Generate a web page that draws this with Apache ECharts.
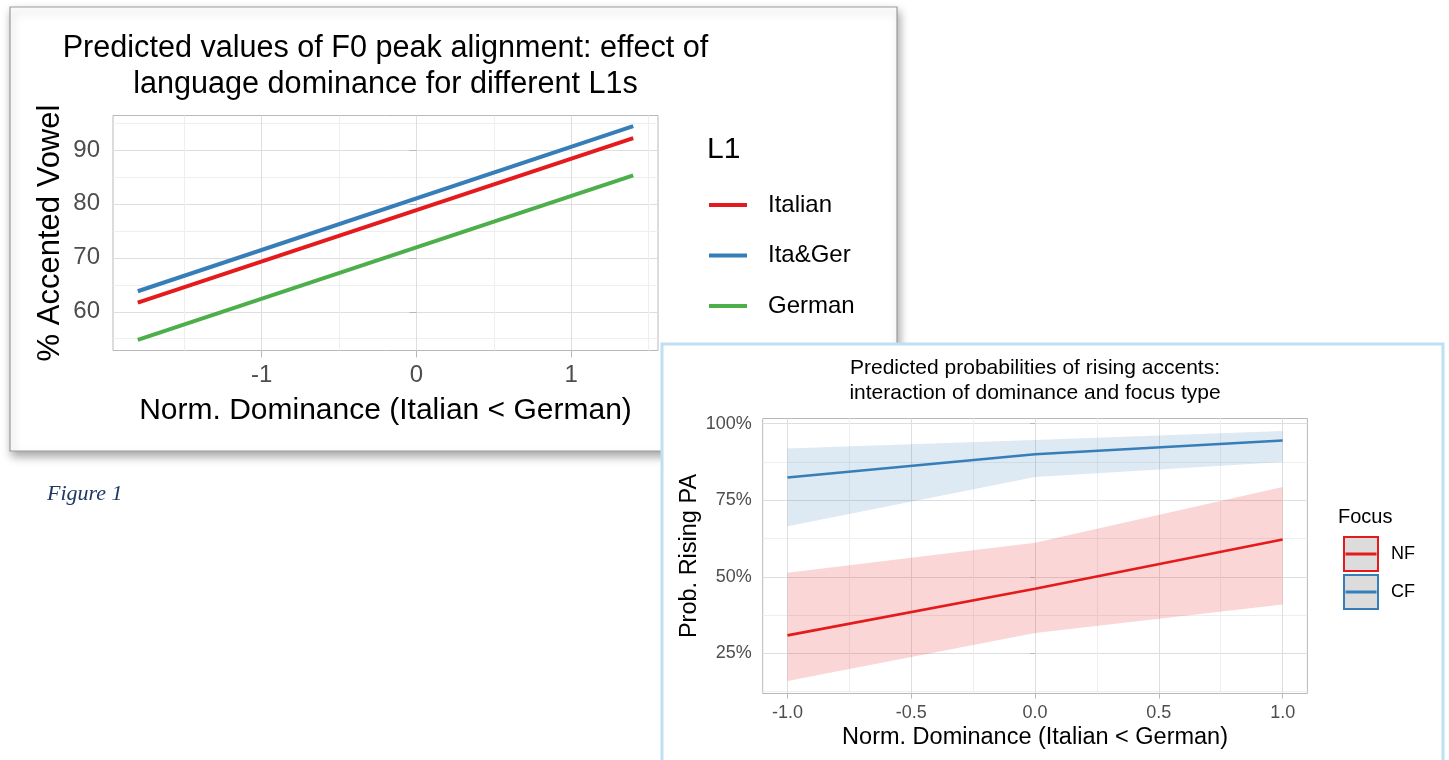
<!DOCTYPE html>
<html>
<head>
<meta charset="utf-8">
<script src="https://cdn.jsdelivr.net/npm/echarts@6/dist/echarts.min.js"></script>
<style>
  html, body { margin: 0; padding: 0; background: #fff; }
  #chart { width: 1449px; height: 760px; }
</style>
</head>
<body>
<div id="chart"></div>
<script>
// ---- Left panel: predicted F0 peak alignment by dominance and L1 ----
const dominanceF0 = [-1.8, 1.4];
const italianF0 = [61.7, 92.2];
const itaGerF0 = [63.8, 94.4];
const germanF0 = [54.8, 85.3];
const f0XTicks = [-1, 0, 1];
const f0XMinor = [-1.5, -0.5, 0.5, 1.5];
const f0YTicks = [60, 70, 80, 90];
const f0YMinor = [55, 65, 75, 85, 95];

// ---- Right panel: predicted probability of rising accents by focus ----
const dominanceRise = [-1, 0, 1];
const nfFit = [0.309, 0.461, 0.622];
const nfLow = [0.160, 0.317, 0.410];
const nfHigh = [0.513, 0.611, 0.793];
const cfFit = [0.824, 0.900, 0.945];
const cfLow = [0.665, 0.826, 0.875];
const cfHigh = [0.919, 0.947, 0.976];
const riseXTicks = [-1, -0.5, 0, 0.5, 1];
const riseXMinor = [-0.75, -0.25, 0.25, 0.75];
const riseYTicks = [0.25, 0.5, 0.75, 1.0];
const riseYMinor = [0.125, 0.375, 0.625, 0.875];

const RED = '#e41a1c', BLUE = '#377eb8', GREEN = '#4daf4a';
const FONT = "'Liberation Sans', Arial, Helvetica, sans-serif";
const TICK_COLOR = '#4d4d4d', BORDER = '#b8b8b8';
const GRID_MAJOR = '#dedede', GRID_MINOR = '#eeeeee';

const zip = (xs, ys) => xs.map((x, i) => [x, ys[i]]);
// ggplot-style continuous scale expansion (5% each side)
function expand(values) {
  const lo = Math.min(...values), hi = Math.max(...values), pad = (hi - lo) * 0.05;
  return [lo - pad, hi + pad];
}

const f0X = expand(dominanceF0);
const f0Y = expand([...italianF0, ...itaGerF0, ...germanF0]);
const riseX = expand(dominanceRise);
const riseY = expand([...nfLow, ...nfHigh, ...cfLow, ...cfHigh]);

function majorAxis(grid, range, ticks, opts) {
  return {
    gridIndex: grid, type: 'value', min: range[0], max: range[1],
    position: opts.position,
    axisLine: { show: false },
    axisTick: { show: true, length: opts.tickLen, customValues: ticks, lineStyle: { color: BORDER, width: 1 } },
    axisLabel: { customValues: ticks, fontSize: opts.labelSize, color: TICK_COLOR, margin: opts.margin,
                 fontFamily: FONT, formatter: opts.fmt },
    splitLine: { show: true, lineStyle: { color: GRID_MAJOR, width: 1 } },
    name: opts.name, nameLocation: 'middle', nameGap: opts.nameGap,
    nameTextStyle: { fontSize: opts.nameSize, color: '#000', fontFamily: FONT }
  };
}
function minorAxis(grid, range, ticks, position) {
  return {
    gridIndex: grid, type: 'value', min: range[0], max: range[1], position: position,
    axisLine: { show: false },
    axisTick: { show: false, customValues: ticks },
    axisLabel: { show: false, customValues: ticks },
    splitLine: { show: true, lineStyle: { color: GRID_MINOR, width: 1 } }
  };
}

// Confidence ribbon: one polygon through the upper bounds and back along the lower bounds
function ribbon(xs, lows, highs, fill) {
  return {
    type: 'custom', xAxisIndex: 2, yAxisIndex: 2, silent: true, z: 1,
    data: xs.map((x, i) => [x, lows[i], highs[i]]),
    encode: { x: 0, y: [1, 2] },
    renderItem: function (params, api) {
      if (params.dataIndex !== 0) return null;
      const upper = xs.map((x, i) => api.coord([x, highs[i]]));
      const lower = xs.map((x, i) => api.coord([x, lows[i]])).reverse();
      return { type: 'polygon', shape: { points: upper.concat(lower) }, style: { fill: fill } };
    }
  };
}

const chart = echarts.init(document.getElementById('chart'), null, { renderer: 'canvas' });

chart.setOption({
  animation: false,
  backgroundColor: '#fff',
  grid: [
    { left: 113, top: 115.5, width: 545, height: 235, show: true, borderColor: BORDER, borderWidth: 1,
      backgroundColor: 'transparent', outerBoundsMode: 'none' },
    { left: 762.7, top: 418.5, width: 544.7, height: 275, show: true, borderColor: BORDER, borderWidth: 1,
      backgroundColor: 'transparent', outerBoundsMode: 'none' }
  ],
  xAxis: [
    majorAxis(0, f0X, f0XTicks, { position: 'bottom', tickLen: 7, labelSize: 24, margin: 13,
      fmt: v => String(v), name: 'Norm. Dominance (Italian < German)', nameGap: 45, nameSize: 30 }),
    minorAxis(0, f0X, f0XMinor, 'top'),
    majorAxis(1, riseX, riseXTicks, { position: 'bottom', tickLen: 5, labelSize: 18, margin: 11,
      fmt: v => v.toFixed(1), name: 'Norm. Dominance (Italian < German)', nameGap: 32, nameSize: 23.5 }),
    minorAxis(1, riseX, riseXMinor, 'top')
  ],
  yAxis: [
    majorAxis(0, f0Y, f0YTicks, { position: 'left', tickLen: 7, labelSize: 24, margin: 13,
      fmt: v => String(v), name: '% Accented Vowel', nameGap: 47, nameSize: 31 }),
    minorAxis(0, f0Y, f0YMinor, 'right'),
    majorAxis(1, riseY, riseYTicks, { position: 'left', tickLen: 5, labelSize: 18, margin: 11,
      fmt: v => Math.round(v * 100) + '%', name: 'Prob. Rising PA', nameGap: 61, nameSize: 23.5 }),
    minorAxis(1, riseY, riseYMinor, 'right')
  ],
  legend: [
    {
      orient: 'vertical', left: 709, top: 190, padding: 0,
      itemWidth: 38, itemHeight: 4, itemGap: 20.5, icon: 'rect', selectedMode: false,
      textStyle: { fontSize: 24, color: '#000', lineHeight: 30, padding: [0, 0, 0, 16], fontFamily: FONT },
      data: [
        { name: 'Italian', itemStyle: { color: RED, borderWidth: 0 } },
        { name: 'Ita&Ger', itemStyle: { color: BLUE, borderWidth: 0 } },
        { name: 'German', itemStyle: { color: GREEN, borderWidth: 0 } }
      ]
    },
    {
      orient: 'vertical', left: 1343, top: 536, padding: 0,
      itemWidth: 34, itemHeight: 34, itemGap: 2, selectedMode: false,
      icon: 'path://M0,0H34V34H0Z M2.5,16.5H31.5V17.5H2.5Z',
      textStyle: { fontSize: 18, color: '#000', padding: [0, 0, 0, 8], fontFamily: FONT },
      data: [
        { name: 'NF', itemStyle: { color: '#dcdcdc', borderColor: RED, borderWidth: 2 } },
        { name: 'CF', itemStyle: { color: '#dcdcdc', borderColor: BLUE, borderWidth: 2 } }
      ]
    }
  ],
  graphic: [
    // card behind the left figure
    { type: 'rect', z: -2, silent: true,
      shape: { x: 10, y: 7, width: 887, height: 444 },
      style: { fill: '#fff', stroke: '#9c9c9c', lineWidth: 1.2,
               shadowBlur: 9, shadowOffsetX: 2, shadowOffsetY: 5, shadowColor: 'rgba(0,0,0,0.35)' } },
    // card behind the right figure
    { type: 'rect', z: -1, silent: true,
      shape: { x: 662, y: 344, width: 781, height: 430 },
      style: { fill: '#fff', stroke: '#bfe0f2', lineWidth: 3 } },
    { type: 'text', z: 5, silent: true,
      style: { text: 'Predicted values of F0 peak alignment: effect of\nlanguage dominance for different L1s',
               x: 385.5, y: 31, align: 'center', verticalAlign: 'top', lineHeight: 36,
               font: '30.6px ' + FONT, fill: '#000' } },
    { type: 'text', z: 5, silent: true,
      style: { text: 'Predicted probabilities of rising accents:\ninteraction of dominance and focus type',
               x: 1035, y: 355.5, align: 'center', verticalAlign: 'top', lineHeight: 25,
               font: '21px ' + FONT, fill: '#000' } },
    { type: 'text', z: 5, silent: true,
      style: { text: 'L1', x: 707, y: 150, verticalAlign: 'middle', font: '30px ' + FONT, fill: '#000' } },
    { type: 'text', z: 5, silent: true,
      style: { text: 'Focus', x: 1338, y: 517, verticalAlign: 'middle', font: '20px ' + FONT, fill: '#000' } },
    { type: 'text', z: 5, silent: true,
      style: { text: 'Figure 1', x: 47, y: 494, verticalAlign: 'middle',
               font: 'italic 22px "Liberation Serif", "Times New Roman", serif', fill: '#1f3864' } }
  ],
  series: [
    // left panel fitted lines
    { type: 'line', name: 'Italian', xAxisIndex: 0, yAxisIndex: 0, data: zip(dominanceF0, italianF0),
      showSymbol: false, symbol: 'none', silent: true, lineStyle: { width: 4, color: RED }, itemStyle: { color: RED } },
    { type: 'line', name: 'Ita&Ger', xAxisIndex: 0, yAxisIndex: 0, data: zip(dominanceF0, itaGerF0),
      showSymbol: false, symbol: 'none', silent: true, lineStyle: { width: 4, color: BLUE }, itemStyle: { color: BLUE } },
    { type: 'line', name: 'German', xAxisIndex: 0, yAxisIndex: 0, data: zip(dominanceF0, germanF0),
      showSymbol: false, symbol: 'none', silent: true, lineStyle: { width: 4, color: GREEN }, itemStyle: { color: GREEN } },

    // right panel confidence ribbons
    ribbon(dominanceRise, nfLow, nfHigh, 'rgba(228,26,28,0.18)'),
    ribbon(dominanceRise, cfLow, cfHigh, 'rgba(55,126,184,0.17)'),

    // right panel fitted probabilities
    { type: 'line', name: 'NF', xAxisIndex: 2, yAxisIndex: 2, data: zip(dominanceRise, nfFit), z: 3,
      showSymbol: false, symbol: 'none', silent: true, lineStyle: { width: 2.6, color: RED }, itemStyle: { color: RED } },
    { type: 'line', name: 'CF', xAxisIndex: 2, yAxisIndex: 2, data: zip(dominanceRise, cfFit), z: 3,
      showSymbol: false, symbol: 'none', silent: true, lineStyle: { width: 2.6, color: BLUE }, itemStyle: { color: BLUE } }
  ]
});
</script>
</body>
</html>
